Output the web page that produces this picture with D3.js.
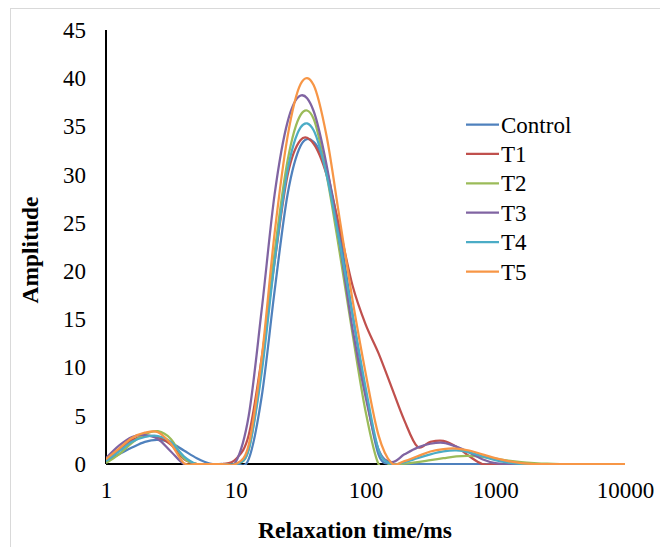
<!DOCTYPE html>
<html>
<head>
<meta charset="utf-8">
<script src="https://cdn.jsdelivr.net/npm/d3@7"></script>
<style>
 body { margin: 0; background: #fff; }
</style>
</head>
<body>
<div id="chart"></div>
<script>
const serif = '"Liberation Serif"';

// relaxation times, 10 points per decade from 1 to 10000 ms
const times = d3.range(0, 41).map(i => Math.pow(10, i / 10));

const seriesNames = ['Control', 'T1', 'T2', 'T3', 'T4', 'T5'];
const seriesColors = ['#4F81BD', '#C0504D', '#9BBB59', '#8064A2', '#4BACC6', '#F79646'];

// amplitudes, one value per time above
const control = [0.3, 1.0, 1.7, 2.3, 2.5, 2.2, 1.4, 0.6, 0.05, 0, 0,
  0.5, 7, 18, 28, 33, 33.4, 30.5, 24, 15.5, 7.5, 1, 0, 0, 0, 0, 0, 0, 0, 0,
  0, 0, 0, 0, 0, 0, 0, 0, 0, 0, 0];
const t1 = [0.4, 1.5, 2.5, 2.9, 2.8, 2.0, 0.5, 0, 0, 0, 0.5,
  3, 11, 21, 30, 33.6, 33.2, 30, 24.5, 18.5, 14.5, 11.5, 8, 4.5, 1.8, 2.3, 2.4, 1.8, 0.8, 0,
  0, 0, 0, 0, 0, 0, 0, 0, 0, 0, 0];
const t2 = [0.1, 1.0, 2.2, 3.1, 3.4, 2.6, 0.6, 0, 0, 0, 0,
  1.5, 10, 22, 31.5, 36.2, 35.8, 30, 22, 13.5, 5.5, 0, 0, 0.05, 0.2, 0.4, 0.6, 0.8, 0.85, 0.75,
  0.55, 0.35, 0.2, 0.1, 0.03, 0, 0, 0, 0, 0, 0];
const t3 = [0.6, 1.9, 2.8, 3.0, 2.6, 1.3, 0, 0, 0, 0, 0.2,
  5, 16, 28, 35.5, 38.2, 36.6, 31, 23, 14, 7, 1.5, 0.2, 1.0, 1.7, 2.1, 2.2, 1.8, 1.2, 0.5,
  0.1, 0, 0, 0, 0, 0, 0, 0, 0, 0, 0];
const t4 = [0.3, 1.3, 2.3, 2.8, 2.9, 2.3, 0.8, 0, 0, 0, 0,
  1.5, 9.5, 21, 30.5, 34.9, 34.6, 30, 23, 15.5, 8, 1.5, 0, 0.2, 0.6, 1.0, 1.3, 1.4, 1.2, 0.8,
  0.4, 0.15, 0, 0, 0, 0, 0, 0, 0, 0, 0];
const t5 = [0.5, 1.6, 2.7, 3.25, 3.3, 2.1, 0.1, 0, 0, 0, 0,
  2, 11, 24, 34, 39.4, 39.3, 34, 25.5, 17, 9.5, 3, 0.1, 0.3, 0.8, 1.3, 1.55, 1.6, 1.4, 1.0,
  0.6, 0.3, 0.1, 0, 0, 0, 0, 0, 0, 0, 0];

const yTicks = [0, 5, 10, 15, 20, 25, 30, 35, 40, 45];
const xTicks = [1, 10, 100, 1000, 10000];

const allSeries = [control, t1, t2, t3, t4, t5];

const margin = {top: 30, right: 35, bottom: 83, left: 106};
const width = 660, height = 547;
const visWidth = width - margin.left - margin.right;
const visHeight = height - margin.top - margin.bottom;

const svg = d3.select('#chart').append('svg')
    .attr('width', width)
    .attr('height', height);

// chart area border, only top and left are in frame
svg.append('rect')
    .attr('x', 10.5)
    .attr('y', 8.5)
    .attr('width', 700)
    .attr('height', 600)
    .attr('fill', 'none')
    .attr('stroke', '#d9d9d9')
    .attr('stroke-width', 1);

svg.append('clipPath')
    .attr('id', 'plot-clip')
    .append('rect')
    .attr('x', 0)
    .attr('y', -5)
    .attr('width', visWidth + 2)
    .attr('height', visHeight + 6);

const container = svg.append('g')
    .attr('transform', `translate(${margin.left}, ${margin.top})`);

const xScale = d3.scaleLog()
    .domain([1, 10000])
    .range([0, visWidth]);

const yScale = d3.scaleLinear()
    .domain([0, 45])
    .range([visHeight, 0]);

// axes, no tick marks and no domain path
container.append('g')
    .attr('class', 'x-axis')
    .attr('transform', `translate(0,${visHeight})`)
    .call(d3.axisBottom(xScale).tickValues(xTicks).tickFormat(d3.format('d')).tickSize(0).tickPadding(18));

container.append('g')
    .attr('class', 'y-axis')
    .call(d3.axisLeft(yScale).tickValues(yTicks).tickSize(0).tickPadding(20));

container.selectAll('.domain').remove();
container.selectAll('.x-axis, .y-axis').attr('font-family', null).attr('font-size', null);
container.selectAll('.tick text')
    .style('font-family', serif)
    .style('font-size', '23px')
    .attr('fill', '#000');

container.append('line')
    .attr('x1', 0).attr('x2', visWidth)
    .attr('y1', visHeight).attr('y2', visHeight)
    .attr('stroke', '#000')
    .attr('stroke-width', 2);

container.append('line')
    .attr('x1', 0).attr('x2', 0)
    .attr('y1', 0).attr('y2', visHeight)
    .attr('stroke', '#000')
    .attr('stroke-width', 2);

const line = d3.line()
    .x((d, i) => xScale(times[i]))
    .y(d => yScale(d))
    .curve(d3.curveCatmullRom.alpha(0));

container.append('g')
    .attr('clip-path', 'url(#plot-clip)')
    .selectAll('path')
    .data(allSeries)
    .join('path')
    .attr('fill', 'none')
    .attr('stroke', (d, i) => seriesColors[i])
    .attr('stroke-width', 2.25)
    .attr('stroke-linejoin', 'round')
    .attr('d', line);

// legend
const legend = svg.append('g')
    .attr('transform', 'translate(466,124.5)');

const items = legend.selectAll('g')
    .data(seriesNames)
    .join('g')
    .attr('transform', (d, i) => `translate(0,${i * 29.4})`);

items.append('line')
    .attr('x1', 0).attr('x2', 33)
    .attr('y1', 0).attr('y2', 0)
    .attr('stroke', (d, i) => seriesColors[i])
    .attr('stroke-width', 2.25);

items.append('text')
    .attr('x', 35)
    .attr('y', 8)
    .style('font-family', serif)
    .style('font-size', '23px')
    .text(d => d);

// axis titles
svg.append('text')
    .attr('x', 355)
    .attr('y', 538)
    .attr('text-anchor', 'middle')
    .style('font-family', serif)
    .style('font-size', '23.5px')
    .style('font-weight', 'bold')
    .text('Relaxation time/ms');

svg.append('text')
    .attr('transform', 'translate(38,250) rotate(-90)')
    .attr('text-anchor', 'middle')
    .style('font-family', serif)
    .style('font-size', '23.5px')
    .style('font-weight', 'bold')
    .text('Amplitude');
</script>
</body>
</html>
